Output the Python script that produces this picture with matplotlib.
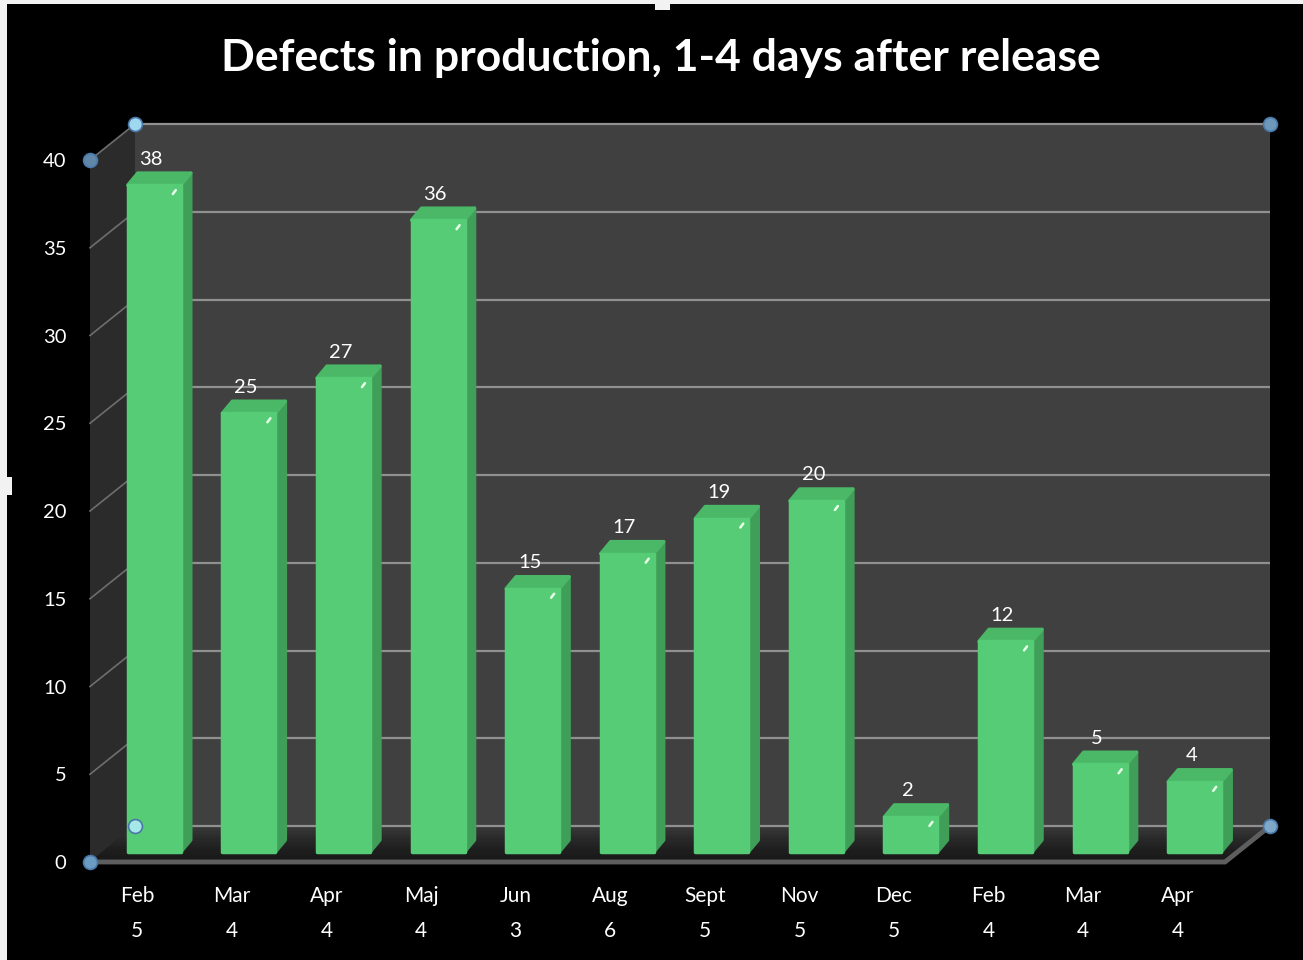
import matplotlib
matplotlib.use("Agg")
import matplotlib.pyplot as plt
from matplotlib.patches import Polygon, Rectangle
import numpy as np

# ---- data ----
months = ["Feb", "Mar", "Apr", "Maj", "Jun", "Aug", "Sept", "Nov", "Dec", "Feb", "Mar", "Apr"]
days = [5, 4, 4, 4, 3, 6, 5, 5, 5, 4, 4, 4]
defects = [38, 25, 27, 36, 15, 17, 19, 20, 2, 12, 5, 4]
yticks = [0, 5, 10, 15, 20, 25, 30, 35, 40]
title = "Defects in production, 1-4 days after release"

# ---- style ----
W, H = 1303, 960
FONT = "Lato"
FRONT = "#57cc76"
SIDE = "#3f9e57"
TOP = "#4bb867"
WALL = "#404040"
SIDEWALL = "#2b2b2b"
GRID = "#909090"

fig = plt.figure(figsize=(W / 100, H / 100), dpi=100, facecolor="black")
L, R, B, T = 90, 1225, 862, 160
ax = fig.add_axes([L / W, (H - B) / H, (R - L) / W, (B - T) / H])
ax.set_facecolor("none")
n = len(defects)
ax.set_xlim(-0.5, n - 0.5)
ax.set_ylim(0, 40)
for s in ax.spines.values():
    s.set_visible(False)

PX = (R - L) / n          # pixels per x unit
PY = (B - T) / 40         # pixels per y unit
DX, DY = 45 / PX, 36 / PY  # full depth offset in data units
x0, x1 = -0.5, n - 0.5

# back wall
ax.add_patch(Rectangle((x0 + DX, DY), x1 - x0, 40, facecolor=WALL, edgecolor="none",
                       zorder=0, clip_on=False))
# left side wall
ax.add_patch(Polygon([(x0, 0), (x0, 40), (x0 + DX, 40 + DY), (x0 + DX, DY)],
                     closed=True, facecolor=SIDEWALL, edgecolor="none", zorder=0,
                     clip_on=False))
# floor (gradient: lighter at back)
nb = 14
for k in range(nb):
    f0, f1 = k / nb, (k + 1) / nb
    c = 0.10 + 0.14 * (f0 ** 1.6)
    ax.add_patch(Polygon([(x0 + DX * f0, DY * f0), (x1 + DX * f0, DY * f0),
                          (x1 + DX * f1, DY * f1), (x0 + DX * f1, DY * f1)],
                         closed=True, facecolor=(c, c, c), edgecolor=(c, c, c), lw=0.5,
                         zorder=0.5, clip_on=False))
# grid lines
for v in yticks:
    ax.plot([x0 + DX, x1 + DX], [v + DY, v + DY], color=GRID, lw=1.6, zorder=1,
            solid_capstyle="butt", clip_on=False)
    if v > 0:
        ax.plot([x0, x0 + DX], [v, v + DY], color="#6e6e6e", lw=1.2, zorder=1,
                clip_on=False)
# floor front edges
ax.plot([x0, x1, x1 + DX], [0, 0, DY], color="#5e5e5e", lw=3.5, zorder=1.2,
        solid_joinstyle="miter", clip_on=False)

# bars
bx, by = 17 / PX, 10 / PY
bw = 53 / PX
sx, sy = 10 / PX, 12 / PY
xs = np.arange(n)
for i, v in enumerate(defects):
    xl = xs[i] + bx - bw / 2
    xr = xl + bw
    b0, t0 = by, by + v
    ax.add_patch(Polygon([(xr, b0), (xr, t0), (xr + sx, t0 + sy), (xr + sx, b0 + sy)],
                         closed=True, facecolor=SIDE, edgecolor=SIDE, lw=2.5,
                         joinstyle="round", zorder=3, clip_on=False))
    ax.add_patch(Polygon([(xl, t0), (xr, t0), (xr + sx, t0 + sy), (xl + sx, t0 + sy)],
                         closed=True, facecolor=TOP, edgecolor=TOP, lw=2.5,
                         joinstyle="round", zorder=3, clip_on=False))
bars = ax.bar(xs + bx, defects, bottom=by, width=bw, color=FRONT, edgecolor=FRONT,
              linewidth=2.5, joinstyle="round", zorder=4)
for b in bars:
    b.set_clip_on(False)
for i, v in enumerate(defects):
    xr = xs[i] + bx + bw / 2
    ax.plot([xr - 8 / PX, xr - 5 / PX], [by + v - 9 / PY, by + v - 5 / PY],
            color="#e8ffe8", lw=1.8, zorder=5, clip_on=False, solid_capstyle="round")
    ax.annotate(str(v), (xs[i] + bx - 3 / PX, by + v + sy), xytext=(0, 4),
                textcoords="offset points", ha="center", va="bottom",
                color="white", fontsize=14.5, family=FONT, zorder=6,
                annotation_clip=False)

# axes ticks
ax.set_yticks(yticks)
ax.set_yticklabels([str(v) for v in yticks], family=FONT, fontsize=14.5, color="white")
ax.set_xticks(xs)
ax.set_xticklabels([f"{m}\n{d}" for m, d in zip(months, days)], family=FONT,
                   fontsize=15, color="white", linespacing=1.95)
ax.tick_params(axis="y", length=0, pad=17)
ax.tick_params(axis="x", length=0, pad=17)

# selection handles
hx = [x0, x0 + DX, x1 + DX, x1 + DX, x0 + DX, x0]
hy = [40, 40 + DY, 40 + DY, DY, DY, 0]
hc = ["#5f88a8", "#9fd8ee", "#6d98b8", "#7fa8c8", "#a6e8ea", "#6c9cc4"]
for x, y, c in zip(hx, hy, hc):
    ax.plot([x], [y], marker="o", ms=10, color=c, mec="#4a78a8", mew=1.2,
            zorder=7, clip_on=False)

# title
fig.text(0.507, 1 - 58 / H, title, ha="center", va="center", color="white",
         fontsize=32, fontweight="bold", family=FONT)

# screenshot frame bits
fig.add_artist(Rectangle((0, 1 - 4 / H), 1, 4 / H, transform=fig.transFigure,
                         facecolor="#f2f2f2", edgecolor="none"))
fig.add_artist(Rectangle((0, 0), 7 / W, 1, transform=fig.transFigure,
                         facecolor="#f2f2f2", edgecolor="none"))
fig.add_artist(Rectangle((655 / W, 1 - 10 / H), 15 / W, 10 / H, transform=fig.transFigure,
                         facecolor="#f2f2f2", edgecolor="none"))
fig.add_artist(Rectangle((0, 1 - 495 / H), 12 / W, 18 / H, transform=fig.transFigure,
                         facecolor="#f2f2f2", edgecolor="none"))

fig.savefig("out.png", dpi=100, facecolor="black")
